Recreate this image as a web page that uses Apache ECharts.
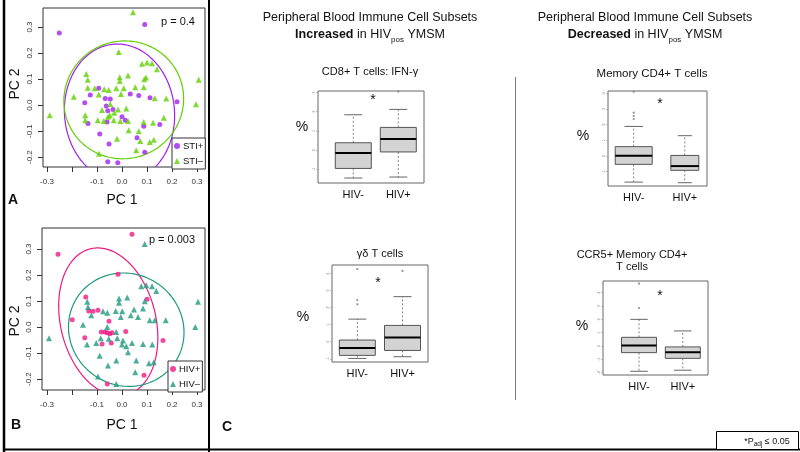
<!DOCTYPE html>
<html><head><meta charset="utf-8">
<script src="https://cdn.jsdelivr.net/npm/echarts@6/dist/echarts.min.js"></script>
<style>html,body{margin:0;padding:0;background:#fff}#c{width:800px;height:452px}</style>
</head><body><div id="c"></div>
<script>
// ---------- DATA ----------
const pcTicks = [-0.3, -0.2, -0.1, 0, 0.1, 0.2, 0.3];
const pcLabels = [-0.3, -0.1, 0, 0.1, 0.2, 0.3];

const stiPos = [[-0.251,0.277],[0.091,0.31],[-0.093,0.065],[-0.127,0.039],[-0.149,0.009],[-0.067,0.025],[-0.047,0.023],[-0.063,-0.004],[-0.057,-0.022],[-0.036,-0.017],[0.033,0.043],[0.067,0.037],[0.112,0.028],[0.22,0.013],[-0.136,-0.071],[-0.06,-0.065],[0.0,-0.045],[0.013,-0.058],[0.087,-0.081],[0.151,-0.075],[-0.089,-0.111],[-0.052,-0.15],[0.06,-0.126],[0.091,-0.181],[-0.057,-0.218],[-0.017,-0.222]];
const stiNeg = [[0.044,0.357],[-0.013,0.204],[0.08,0.159],[0.1,0.164],[0.12,0.161],[0.14,0.138],[0.096,0.106],[0.089,0.099],[-0.143,0.119],[-0.137,0.097],[-0.009,0.107],[-0.009,0.092],[0.024,0.114],[-0.137,0.067],[-0.109,0.065],[-0.093,0.041],[-0.071,0.061],[-0.053,0.058],[-0.023,0.065],[0.007,0.065],[-0.004,0.043],[0.053,0.068],[0.087,0.068],[-0.193,0.032],[-0.289,-0.039],[0.131,0.026],[0.177,0.025],[0.307,0.097],[0.296,0.003],[-0.147,-0.039],[-0.147,-0.058],[-0.097,-0.058],[-0.08,-0.019],[-0.073,-0.061],[-0.047,0.004],[-0.049,-0.039],[-0.056,-0.045],[-0.031,-0.03],[-0.016,-0.017],[-0.033,-0.058],[-0.007,-0.061],[0.017,-0.013],[0.024,-0.061],[0.027,-0.097],[0.087,-0.065],[0.124,-0.068],[0.167,-0.049],[-0.02,-0.129],[0.067,-0.101],[0.057,-0.174],[0.073,-0.138],[0.127,-0.133],[0.111,-0.142],[-0.092,-0.187]];

const hivPos = [[-0.256,0.28],[0.04,0.357],[-0.016,0.203],[-0.145,0.116],[0.1,0.107],[-0.199,0.028],[-0.133,0.062],[-0.116,0.061],[-0.096,0.065],[-0.052,0.022],[-0.149,-0.041],[-0.083,-0.019],[-0.069,-0.019],[-0.059,-0.022],[-0.049,-0.026],[-0.04,-0.022],[0.015,-0.017],[-0.08,-0.065],[-0.043,-0.061],[0.164,-0.052],[0.088,-0.185],[-0.059,-0.219]];
const hivNeg = [[0.091,0.319],[0.077,0.157],[0.097,0.161],[0.12,0.157],[0.137,0.139],[0.091,0.099],[0.175,0.026],[0.304,0.097],[0.293,0.0],[-0.292,-0.043],[-0.156,0.009],[-0.139,0.097],[-0.136,0.077],[-0.123,0.045],[-0.012,0.11],[-0.012,0.094],[0.021,0.114],[-0.076,0.061],[-0.059,0.055],[-0.025,0.062],[0.001,0.061],[-0.005,0.039],[0.048,0.068],[0.084,0.071],[0.035,0.045],[0.064,0.039],[0.111,0.026],[0.131,0.026],[-0.14,-0.067],[-0.103,-0.061],[-0.085,-0.043],[-0.059,0.0],[-0.053,-0.045],[-0.023,-0.019],[-0.019,-0.043],[0.004,-0.052],[0.017,-0.074],[0.0,-0.067],[0.04,-0.061],[0.024,-0.097],[0.084,-0.065],[0.121,-0.067],[-0.089,-0.11],[-0.023,-0.129],[0.057,-0.129],[-0.056,-0.148],[0.053,-0.174],[0.108,-0.139],[0.127,-0.135],[-0.096,-0.19],[-0.023,-0.219]];

// ellipse parameters: [centerX, centerY, radiusX, radiusY, angleDeg]
const ellipseStiPos = [-0.01, -0.03, 0.22, 0.265, 6];
const ellipseStiNeg = [0.007, 0.02, 0.24, 0.226, 10];
const ellipseHivPos = [-0.055, 0.02, 0.19, 0.29, 15];
const ellipseHivNeg = [0.017, -0.01, 0.233, 0.216, -20];

const boxCats = ['HIV-', 'HIV+'];
// box stats: [lower whisker, Q1, median, Q3, upper whisker]
const cd8IfngNeg = [-1.46, -0.96, -0.16, 0.38, 1.84];
const cd8IfngPos = [-1.41, -0.10, 0.57, 1.18, 2.12];
const cd8IfngOutNeg = [];
const cd8IfngOutPos = [3.05];
const memCd4Neg = [-1.66, -0.53, 0.02, 0.60, 1.89];
const memCd4Pos = [-1.70, -0.91, -0.64, 0.04, 1.30];
const memCd4OutNeg = [4.1, 2.77, 2.55, 2.36];
const memCd4OutPos = [];
const gdNeg = [-0.98, -0.80, -0.37, 0.10, 1.33];
const gdPos = [-0.88, -0.51, 0.25, 0.96, 2.65];
const gdOutNeg = [4.27, 2.45, 2.2];
const gdOutPos = [4.16];
const ccr5Neg = [-1.90, -0.50, 0.03, 0.65, 2.00];
const ccr5Pos = [-1.82, -0.93, -0.48, -0.07, 1.13];
const ccr5OutNeg = [4.68, 2.85];
const ccr5OutPos = [];
const ticksCd8 = [-1, 0, 1, 2, 3];
const ticksMem = [-1, 0, 1, 2, 3, 4];
const ticksGd = [-1, 0, 1, 2, 3, 4];
const ticksCcr5 = [-2, -1, 0, 1, 2, 3, 4];

// ---------- LAYOUT / STYLE ----------
const FONT = '"Liberation Sans", Arial, Helvetica, sans-serif';
const C_PURPLE = '#a020f0', C_GREEN = '#62cf00', C_PINK = '#ec1a82', C_TEAL = '#1f9a80';

const boxPanels = [
  {grid:{left:318, top:91, width:106, height:92}, x:[0.216,2.571], y:[-1.72,3.08], ticks:ticksCd8, neg:cd8IfngNeg, pos:cd8IfngPos, outNeg:cd8IfngOutNeg, outPos:cd8IfngOutPos, widths:[36,36]},
  {grid:{left:608, top:91, width:99, height:95}, x:[0.497,2.434], y:[-1.91,4.15], ticks:ticksMem, neg:memCd4Neg, pos:memCd4Pos, outNeg:memCd4OutNeg, outPos:memCd4OutPos, widths:[37,28]},
  {grid:{left:332, top:265, width:96, height:97}, x:[0.44,2.564], y:[-1.19,4.51], ticks:ticksGd, neg:gdNeg, pos:gdPos, outNeg:gdOutNeg, outPos:gdOutPos, widths:[36,36]},
  {grid:{left:603, top:281, width:105, height:94}, x:[0.178,2.575], y:[-2.18,4.88], ticks:ticksCcr5, neg:ccr5Neg, pos:ccr5Pos, outNeg:ccr5OutNeg, outPos:ccr5OutPos, widths:[35,35]}
];

const grids = [
  {left:43, top:8, width:162, height:159},
  {left:42, top:228, width:163, height:162}
].concat(boxPanels.map(p => p.grid)).map(g => Object.assign({show:true, borderColor:'#333', borderWidth:1, backgroundColor:'transparent'}, g));
grids.slice(2).forEach(g => g.borderColor = '#666');

function pcX(idx, min, max) {
  return {type:'value', gridIndex:idx, min:min, max:max, position:'bottom', axisLine:{show:false, onZero:false}, splitLine:{show:false},
    axisTick:{show:true, customValues:pcTicks, length:5, lineStyle:{color:'#333'}},
    axisLabel:{customValues:pcLabels, formatter:v => v.toFixed(1), fontSize:8, color:'#333', margin:11, fontFamily:FONT}};
}
function pcY(idx, min, max) {
  return {type:'value', gridIndex:idx, min:min, max:max, position:'left', axisLine:{show:false, onZero:false}, splitLine:{show:false},
    axisTick:{show:true, customValues:pcTicks.slice(1), length:5, lineStyle:{color:'#333'}},
    axisLabel:{customValues:pcTicks.slice(1), formatter:v => v.toFixed(1), rotate:90, fontSize:8, color:'#333', margin:9, fontFamily:FONT}};
}
const xAxes = [pcX(0,-0.316,0.332), pcX(1,-0.32,0.332)];
const yAxes = [pcY(0,-0.238,0.373), pcY(1,-0.242,0.381)];
boxPanels.forEach((p, i) => {
  xAxes.push({type:'value', gridIndex:i+2, min:p.x[0], max:p.x[1], position:'bottom', axisLine:{show:false, onZero:false}, splitLine:{show:false},
    axisTick:{show:false},
    axisLabel:{customValues:[1,2], formatter:v => boxCats[Math.round(v)-1], fontSize:11, color:'#111', margin:6, fontFamily:FONT}});
  yAxes.push({type:'value', gridIndex:i+2, min:p.y[0], max:p.y[1], position:'left', axisLine:{show:false, onZero:false}, splitLine:{show:false},
    axisTick:{show:true, customValues:p.ticks, length:2, lineStyle:{color:'#999', width:0.6}},
    axisLabel:{customValues:p.ticks, rotate:90, fontSize:4, color:'#888', margin:2, fontFamily:FONT}});
});

function ellipseItem(params, api) {
  const cx = api.value(0), cy = api.value(1), rx = api.value(2), ry = api.value(3), a = api.value(4) * Math.PI / 180;
  const pts = [];
  for (let k = 0; k <= 160; k++) {
    const t = k / 160 * 2 * Math.PI, dx = rx * Math.cos(t), dy = ry * Math.sin(t);
    pts.push(api.coord([cx + dx * Math.cos(a) - dy * Math.sin(a), cy + dx * Math.sin(a) + dy * Math.cos(a)]));
  }
  return {type:'polyline', shape:{points:pts}, style:{stroke:api.visual('color'), fill:null, lineWidth:1.2}};
}
function boxRenderer(widths) {
  return function (params, api) {
    const x = api.value(0);
    const c = [1,2,3,4,5].map(i => api.coord([x, api.value(i)]));
    const cx = c[0][0], h = widths[params.dataIndex] / 2;
    const dash = {stroke:'#666', lineWidth:0.8, lineDash:[2,2]};
    const solid = {stroke:'#555', lineWidth:0.9};
    return {type:'group', children:[
      {type:'line', shape:{x1:cx, y1:c[3][1], x2:cx, y2:c[4][1]}, style:dash},
      {type:'line', shape:{x1:cx, y1:c[1][1], x2:cx, y2:c[0][1]}, style:dash},
      {type:'line', shape:{x1:cx-h/2, y1:c[4][1], x2:cx+h/2, y2:c[4][1]}, style:solid},
      {type:'line', shape:{x1:cx-h/2, y1:c[0][1], x2:cx+h/2, y2:c[0][1]}, style:solid},
      {type:'rect', shape:{x:cx-h, y:c[3][1], width:2*h, height:c[1][1]-c[3][1]}, style:{fill:'#d3d3d3', stroke:'#555', lineWidth:1}},
      {type:'line', shape:{x1:cx-h, y1:c[2][1], x2:cx+h, y2:c[2][1]}, style:{stroke:'#000', lineWidth:2}}
    ]};
  };
}

const series = [
  {name:'STI+', type:'scatter', xAxisIndex:0, yAxisIndex:0, data:stiPos, symbol:'circle', symbolSize:5, itemStyle:{color:C_PURPLE}},
  {name:'STI–', type:'scatter', xAxisIndex:0, yAxisIndex:0, data:stiNeg, symbol:'triangle', symbolSize:6, itemStyle:{color:C_GREEN}},
  {type:'custom', xAxisIndex:0, yAxisIndex:0, clip:true, renderItem:ellipseItem, encode:{x:0, y:1}, silent:true,
    data:[{value:ellipseStiPos, itemStyle:{color:C_PURPLE}}, {value:ellipseStiNeg, itemStyle:{color:C_GREEN}}]},
  {name:'HIV+', type:'scatter', xAxisIndex:1, yAxisIndex:1, data:hivPos, symbol:'circle', symbolSize:5, itemStyle:{color:C_PINK}},
  {name:'HIV–', type:'scatter', xAxisIndex:1, yAxisIndex:1, data:hivNeg, symbol:'triangle', symbolSize:6, itemStyle:{color:C_TEAL}},
  {type:'custom', xAxisIndex:1, yAxisIndex:1, clip:true, renderItem:ellipseItem, encode:{x:0, y:1}, silent:true,
    data:[{value:ellipseHivPos, itemStyle:{color:C_PINK}}, {value:ellipseHivNeg, itemStyle:{color:C_TEAL}}]}
];
boxPanels.forEach((p, i) => {
  series.push({type:'custom', xAxisIndex:i+2, yAxisIndex:i+2, renderItem:boxRenderer(p.widths), encode:{x:0, y:[1,2,3,4,5]}, silent:true,
    data:[[1].concat(p.neg), [2].concat(p.pos)]});
  series.push({type:'scatter', xAxisIndex:i+2, yAxisIndex:i+2, symbol:'circle', symbolSize:2.2, itemStyle:{color:'#777'}, silent:true,
    data:p.outNeg.map(v => [1, v]).concat(p.outPos.map(v => [2, v]))});
});

// ---------- TEXT ----------
const mctx = document.createElement('canvas').getContext('2d');
function fontStr(p) { return (p.bold ? 'bold ' : '') + p.size + 'px ' + FONT; }
function runs(cx, y, parts) {
  const w = parts.map(p => { mctx.font = fontStr(p); return mctx.measureText(p.t).width; });
  let x = cx - w.reduce((a, b) => a + b, 0) / 2;
  return parts.map((p, i) => {
    const el = {type:'text', x:x, y:y + (p.dy || 0), style:{text:p.t, font:fontStr(p), fill:'#111', textAlign:'left', align:'left', textVerticalAlign:'bottom', verticalAlign:'bottom'}};
    x += w[i];
    return el;
  });
}
function txt(x, y, t, size, opt) {
  opt = opt || {};
  return {type:'text', x:x, y:y, rotation:opt.rot || 0, style:{text:t, font:(opt.bold ? 'bold ' : '') + size + 'px ' + FONT, fill:opt.fill || '#111',
    textAlign:'center', align:'center', textVerticalAlign:'middle', verticalAlign:'middle'}};
}
function line(x1, y1, x2, y2, w, c) {
  return {type:'line', shape:{x1:x1, y1:y1, x2:x2, y2:y2}, style:{stroke:c || '#000', lineWidth:w}};
}

const graphics = [
  line(4, 0, 4, 452, 2.5), line(209, 0, 209, 452, 2), line(3, 449.5, 800, 449.5, 2),
  line(515.5, 77, 515.5, 400, 1, '#777'),
  {type:'rect', shape:{x:716.5, y:431.5, width:82, height:18}, style:{fill:'#fff', stroke:'#000', lineWidth:1}},
  txt(122, 200, 'PC 1', 14), txt(15.5, 84, 'PC 2', 14, {rot:Math.PI/2}), txt(13, 200, 'A', 14, {bold:true}),
  txt(122, 425, 'PC 1', 14), txt(15.5, 321, 'PC 2', 14, {rot:Math.PI/2}), txt(16, 425, 'B', 14, {bold:true}),
  txt(227, 427, 'C', 14, {bold:true}),
  txt(178, 22, 'p = 0.4', 11), txt(172, 240, 'p = 0.003', 11),
  txt(370, 18, 'Peripheral Blood Immune Cell Subsets', 12.5),
  txt(645, 18, 'Peripheral Blood Immune Cell Subsets', 12.5),
  txt(370, 72, 'CD8+ T cells: IFN-γ', 11), txt(652, 74, 'Memory CD4+ T cells', 11.5),
  txt(380, 254, 'γδ T cells', 11), txt(632, 255, 'CCR5+ Memory CD4+', 11), txt(632, 267, 'T cells', 11),
  txt(302, 127, '%', 14), txt(583, 136, '%', 14), txt(303, 317, '%', 14), txt(582, 326, '%', 14),
  txt(373, 100, '*', 14), txt(660, 104, '*', 14), txt(378, 283, '*', 14), txt(660, 296, '*', 14)
].concat(
  runs(370, 41, [{t:'Increased', size:12.5, bold:true}, {t:' in HIV', size:12.5}, {t:'pos', size:8, dy:3}, {t:' YMSM', size:12.5}]),
  runs(645, 41, [{t:'Decreased', size:12.5, bold:true}, {t:' in HIV', size:12.5}, {t:'pos', size:8, dy:3}, {t:' YMSM', size:12.5}]),
  runs(767, 446, [{t:'*P', size:9}, {t:'adj', size:6.5, dy:2}, {t:' ≤ 0.05', size:9}])
);

const legendStyle = {orient:'vertical', itemWidth:6, itemHeight:6, itemGap:5, padding:[3,2,3,2],
  borderColor:'#333', borderWidth:1, backgroundColor:'#fff', selectedMode:false,
  textStyle:{fontSize:9.5, color:'#111', fontFamily:FONT, padding:[0,0,0,-2]}};

const chart = echarts.init(document.getElementById('c'), null, {renderer:'canvas'});
chart.setOption({
  animation:false,
  backgroundColor:'#fff',
  textStyle:{fontFamily:FONT},
  grid:grids, xAxis:xAxes, yAxis:yAxes, series:series,
  legend:[
    Object.assign({data:['STI+','STI–'], left:172, top:138}, legendStyle),
    Object.assign({data:['HIV+','HIV–'], left:168, top:361}, legendStyle)
  ],
  graphic:{elements:graphics}
});
</script></body></html>
